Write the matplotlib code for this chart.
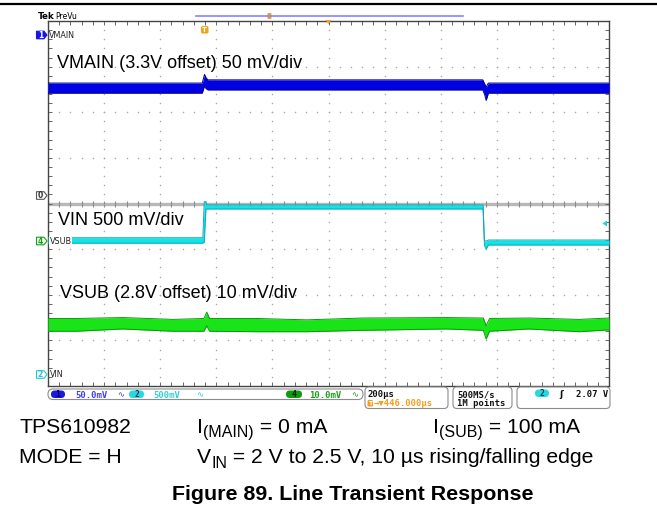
import matplotlib
matplotlib.use("Agg")
import matplotlib.pyplot as plt
import numpy as np
from matplotlib.patches import Polygon, FancyBboxPatch

# ---------------- data (screen divisions, time in microseconds) ----------------
time_per_div_us = 200          # 200 us/div, 10 divisions
n_xdiv, n_ydiv = 10, 8

# VMAIN (3.3 V offset, 50 mV/div) envelope of the noisy trace, in divisions
vmain_t  = [0, 550, 558, 563, 570, 1550, 1557, 1562, 1570, 2000]
vmain_hi = [2.64, 2.64, 2.83, 2.76, 2.71, 2.71, 2.62, 2.55, 2.64, 2.64]
vmain_lo = [2.42, 2.42, 2.58, 2.52, 2.49, 2.49, 2.38, 2.26, 2.42, 2.42]

# VIN (500 mV/div) envelope, in divisions
vin_t  = [0, 552, 557, 563, 566, 580, 1548, 1551, 1556, 1562, 1570, 2000]
vin_hi = [-0.75, -0.75, 0.04, 0.04, -0.03, -0.03, -0.03, -0.03, -0.82, -0.82, -0.80, -0.80]
vin_lo = [-0.87, -0.87, -0.85, -0.12, -0.12, -0.12, -0.12, -0.15, -0.92, -1.00, -0.91, -0.91]

# VSUB (2.8 V offset, 10 mV/div) envelope, in divisions
vsub_t  = [0, 100, 267, 445, 556, 566, 576, 744, 922, 1121, 1420, 1552, 1562, 1574, 1715, 1893, 2000]
vsub_hi = [-2.52, -2.52, -2.50, -2.54, -2.52, -2.38, -2.52, -2.52, -2.55, -2.51, -2.50, -2.51, -2.68, -2.52, -2.51, -2.54, -2.51]
vsub_lo = [-2.80, -2.80, -2.75, -2.80, -2.80, -2.68, -2.80, -2.81, -2.81, -2.78, -2.75, -2.78, -2.97, -2.80, -2.75, -2.81, -2.77]

# on-screen annotations
trace_labels = ["VMAIN (3.3V offset) 50 mV/div", "VIN 500 mV/div", "VSUB (2.8V offset) 10 mV/div"]
channel_tags = [("1", "VMAIN"), ("0", ""), ("4", "VSUB"), ("2", "VIN")]
ch_scales = ["50.0mV", "500mV", "10.0mV"]
timebase = "200µs"
trig_pos = "→▼446.000µs"
sample_rate = ["500MS/s", "1M points"]
trig_level = "2.07 V"
caption_part = "TPS610982"
caption_mode = "MODE = H"
caption_title = "Figure 89. Line Transient Response"

# ---------------- figure ----------------
W, H = 657, 515
fig = plt.figure(figsize=(W / 100, H / 100), dpi=100)
fig.patch.set_facecolor("white")

L, R, T, B = 48, 609, 21, 386
ax = fig.add_axes([L / W, 1 - B / H, (R - L) / W, (B - T) / H])
xmax = n_xdiv * time_per_div_us
ax.set_xlim(0, xmax)
ax.set_ylim(-n_ydiv / 2, n_ydiv / 2)
ax.set_facecolor("white")

# grid dots
dot_c = "#a8a8a8"
ys = np.arange(-4, 4.01, 0.2)
xs = np.arange(0, xmax + 1, time_per_div_us / 5)
for gx in range(time_per_div_us, xmax, time_per_div_us):
    ax.plot([gx] * len(ys), ys, ls="none", marker="o", ms=1.1, color=dot_c, mew=0)
for gy in range(-3, 4):
    if gy == 0:
        continue
    ax.plot(xs, [gy] * len(xs), ls="none", marker="o", ms=1.1, color=dot_c, mew=0)
# centre horizontal axis
ax.axhline(0, color="#b8b8b8", lw=2.4, zorder=1)
ax.plot(xs, [0] * len(xs), ls="none", marker="|", ms=5, color="#8a8a8a", mew=0.8, zorder=1)

# ticks on the frame
ax.set_xticks(np.arange(0, xmax + 1, time_per_div_us))
ax.set_xticks(xs, minor=True)
ax.set_yticks(np.arange(-4, 5, 1))
ax.set_yticks(ys, minor=True)
ax.tick_params(which="both", direction="in", length=3, width=0.7, color="#666666",
               top=True, right=True, labelbottom=False, labelleft=False)
for s in ax.spines.values():
    s.set_color("#444444")
    s.set_linewidth(1.0)

def band(t, lo, hi, fc, ec):
    ax.fill_between(t, lo, hi, color=fc, lw=0, zorder=3)
    ax.plot(t, hi, color=ec, lw=0.7, zorder=3)
    ax.plot(t, lo, color=ec, lw=0.7, zorder=3)

band(vmain_t, vmain_lo, vmain_hi, "#0000e6", "#00008a")
band(vin_t, vin_lo, vin_hi, "#10e4e8", "#10aab8")
band(vsub_t, vsub_lo, vsub_hi, "#18e418", "#0a9a0a")

# ---------------- overlay in pixel coordinates ----------------
ov = fig.add_axes([0, 0, 1, 1], zorder=10)
ov.set_xlim(0, W)
ov.set_ylim(H, 0)
ov.axis("off")
ov.patch.set_alpha(0)

# top rule
ov.plot([0, W], [4, 4], color="black", lw=1.6)

# header
ov.text(37.5, 19, "Tek", fontsize=6.3, fontweight="bold", family="DejaVu Sans")
ov.text(55, 19, "PreVu", fontsize=5.5, family="DejaVu Sans")
ov.plot([196, 463], [16, 16], color="#8484ff", lw=1.2)
ov.add_patch(FancyBboxPatch((267.5, 13), 4, 6, boxstyle="round,pad=0,rounding_size=1",
                            fc="#f2a020", ec="none"))
ov.add_patch(Polygon([(325.5, 20), (331.5, 20), (328.5, 24)], closed=True, fc="#f2a020", ec="none"))
ov.add_patch(FancyBboxPatch((201, 26), 7.5, 7.5, boxstyle="round,pad=0,rounding_size=1.5",
                            fc="#f2a020", ec="none"))
ov.text(204.75, 30, "T", fontsize=5, fontweight="bold", color="white", ha="center", va="center")

# on-screen trace labels
lbl_font = dict(family="Liberation Sans", fontsize=13, color="black")
ov.text(57, 68, trace_labels[0], **lbl_font)
ov.text(58, 225, trace_labels[1], **lbl_font)
ov.text(60, 298, trace_labels[2], **lbl_font)

# channel ground tags on the left
def tag(x0, yc, label, face, edge, tcol):
    pts = [(x0, yc - 3.8), (x0 + 7.5, yc - 3.8), (x0 + 10.5, yc), (x0 + 7.5, yc + 3.8), (x0, yc + 3.8)]
    ov.add_patch(Polygon(pts, closed=True, fc=face, ec=edge, lw=0.8))
    ov.text(x0 + 4, yc + 0.3, label, fontsize=5.5, color=tcol, ha="center", va="center",
            family="DejaVu Sans", fontweight="bold")

tag(36.5, 35, channel_tags[0][0], "#1616e0", "#1616e0", "white")
ov.text(49, 37.5, channel_tags[0][1], fontsize=5.8, family="DejaVu Sans", color="#222222")
tag(36.5, 195.5, channel_tags[1][0], "white", "#555555", "#333333")
tag(36.5, 241, channel_tags[2][0], "white", "#18a018", "#18a018")
ov.text(49.5, 243.8, channel_tags[2][1], fontsize=5.8, family="DejaVu Sans", color="#222222",
        bbox=dict(fc="white", ec="none", pad=0.6))
tag(36.5, 374.5, channel_tags[3][0], "white", "#20c8d0", "#20c8d0")
ov.text(49.5, 377.3, channel_tags[3][1], fontsize=5.8, family="DejaVu Sans", color="#222222")

# trigger level marker (right)
ov.add_patch(Polygon([(602.5, 223.5), (607, 220.5), (607, 226.5)], closed=True, fc="#20d0d8", ec="none"))

# ---------------- status bar ----------------
box_ec = "#8c8c8c"
def rbox(x, y, w, h, r):
    ov.add_patch(FancyBboxPatch((x, y), w, h, boxstyle=f"round,pad=0,rounding_size={r}",
                                fc="white", ec=box_ec, lw=0.8))
def pill(x, y, w, h, fc, label, tcol):
    ov.add_patch(FancyBboxPatch((x, y), w, h, boxstyle=f"round,pad=0,rounding_size={h/2}",
                                fc=fc, ec="none"))
    ov.text(x + w / 2, y + h / 2 + 0.3, label, fontsize=5.8, color=tcol, ha="center", va="center",
            family="DejaVu Sans Mono", fontweight="bold")

mono = dict(family=["DejaVu Sans Mono", "DejaVu Sans"], fontsize=6.4, fontweight="bold")
rbox(48, 389, 315, 10.5, 5)
pill(51, 390.5, 14, 7.5, "#1818e0", "1", "#000050")
ov.text(75, 397.5, ch_scales[0], color="#3c3cff", **mono)
ov.text(117, 397, "∿", color="#3c3cff", family="DejaVu Sans", fontsize=6)
pill(129, 390.5, 15, 7.5, "#28d8e0", "2", "#004050")
ov.text(153, 397.5, ch_scales[1], color="#30d0d8", **mono)
ov.text(196, 397, "∿", color="#30d0d8", family="DejaVu Sans", fontsize=6)
pill(286, 390.5, 16, 7.5, "#109a10", "4", "#002000")
ov.text(309, 397.5, ch_scales[2], color="#18a018", **mono)
ov.text(351, 397, "∿", color="#18a018", family="DejaVu Sans", fontsize=6)

rbox(365, 387, 83, 21.5, 4)
ov.text(368, 397, timebase, color="#111111", **mono)
ov.add_patch(FancyBboxPatch((367.5, 400), 5.5, 6.5, boxstyle="round,pad=0,rounding_size=1",
                            fc="#f2a020", ec="none"))
ov.text(370.25, 403.5, "T", fontsize=4.5, color="white", ha="center", va="center", fontweight="bold")
ov.text(373.5, 406.5, trig_pos, color="#f2a020", **mono)

rbox(453, 387, 59, 21.5, 4)
ov.text(457, 397, sample_rate[0], color="#111111", **mono)
ov.text(457, 406.5, sample_rate[1], color="#111111", **mono)

rbox(517, 387, 93, 21.5, 4)
pill(535, 389.5, 14, 7.5, "#28d8e0", "2", "#004050")
ov.text(559, 397, "ʃ", color="#111111", family="DejaVu Sans", fontsize=6.5, fontweight="bold")
ov.text(576, 397, trig_level, color="#111111", **mono)

# ---------------- caption ----------------
cap = dict(family="Liberation Sans", fontsize=15.2, color="black")
ov.text(19, 433, caption_part, **cap)
ov.text(19, 463, caption_mode, **cap)

renderer = fig.canvas.get_renderer()
def chain(x, y, parts):
    for s, size, dy in parts:
        t = ov.text(x, y + dy, s, family="Liberation Sans", fontsize=size, color="black")
        bb = t.get_window_extent(renderer)
        x = bb.x1

chain(197, 433, [("I", 15.2, 0), ("(MAIN)", 11.5, 4.5), (" = 0 mA", 15.2, 0)])
chain(433, 433, [("I", 15.2, 0), ("(SUB)", 11.5, 4.5), (" = 100 mA", 15.2, 0)])
chain(197, 463, [("V", 15.2, 0), ("IN", 11.5, 4.5), (" = 2 V to 2.5 V, 10 µs rising/falling edge", 15.2, 0)])

ov.text(353, 500, caption_title, family="Liberation Sans", fontsize=15.4, fontweight="bold",
        ha="center", color="black")

fig.savefig("out.png", dpi=100, facecolor="white")
